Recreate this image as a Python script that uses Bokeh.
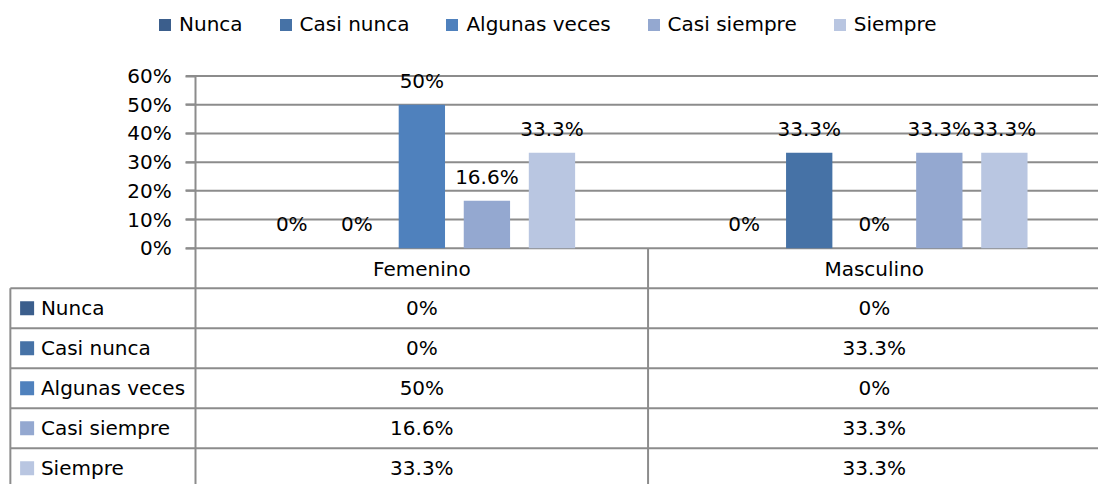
from bokeh.plotting import figure
from bokeh.models import (Range1d, LinearAxis, FixedTicker, NumeralTickFormatter,
                          ColumnDataSource, LabelSet, Legend, LegendItem)
from bokeh.core.properties import value
from bokeh.embed import file_html
from bokeh.resources import INLINE

# ---------------- data ----------------
categories = ["Femenino", "Masculino"]
series = ["Nunca", "Casi nunca", "Algunas veces", "Casi siempre", "Siempre"]
femenino = [0.0, 0.0, 0.50, 0.166, 0.333]
masculino = [0.0, 0.333, 0.0, 0.333, 0.333]
y_ticks = [0.0, 0.1, 0.2, 0.3, 0.4, 0.5, 0.6]

# ---------------- styles / layout ----------------
colors = ["#3B5E8C", "#4672A6", "#4F81BD", "#94A8D0", "#B9C6E1"]
GRAY = "#8C8C8C"
FONT = "DejaVu Sans"
FS = "20px"

W, H = 1098, 484
REF_W, REF_H = 1114, 500   # layout designed in reference pixels, scaled to the figure
AX_X = 198                 # axis line (reference px)
CAT_W = 459                # px per category
ZERO_Y = 256               # px of 0%
PPU = 178 / 0.6            # px per 100%
ROW_H = 41.3               # table row height
BAR_W = 47 / CAT_W
STEP = 66 / CAT_W


def xd(px):
    return (px - AX_X) / CAT_W - 0.5


x_start, x_end = xd(0), xd(REF_W)
y_end = ZERO_Y / PPU
y_start = (ZERO_Y - REF_H) / PPU
t_start = (REF_H - ZERO_Y) / ROW_H
t_end = (0 - ZERO_Y) / ROW_H

p = figure(width=W, height=H, output_backend="svg", toolbar_location=None,
           x_range=Range1d(x_start, x_end), y_range=Range1d(y_start, y_end),
           x_axis_type=None, y_axis_type=None,
           min_border_left=0, min_border_right=0, min_border_top=0,
           min_border_bottom=0, outline_line_color=None,
           background_fill_color="white", border_fill_color="white")
p.extra_y_ranges = {"table": Range1d(start=t_start, end=t_end)}

# gridlines (from tick end to right edge)
p.segment(x0=[xd(188)] * len(y_ticks), x1=[xd(REF_W + 10)] * len(y_ticks),
          y0=y_ticks, y1=y_ticks, line_color=GRAY, line_width=2)

# bars
values = [femenino, masculino]
bar_renderers = []
lab_x, lab_y, lab_t = [], [], []
for si, s in enumerate(series):
    xs = [ci + (si - 2) * STEP for ci in range(len(categories))]
    tops = [values[ci][si] for ci in range(len(categories))]
    src = ColumnDataSource(dict(x=xs, top=tops))
    r = p.vbar(x="x", top="top", bottom=0, width=BAR_W, source=src,
               fill_color=colors[si], line_color=None)
    bar_renderers.append(r)
    for x, t in zip(xs, tops):
        lab_x.append(x)
        lab_y.append(t)
        lab_t.append("{:g}%".format(round(t * 100, 1)))

labels = LabelSet(x="x", y="y", text="t", source=ColumnDataSource(dict(x=lab_x, y=lab_y, t=lab_t)),
                  y_offset=24, text_align="center", text_baseline="middle",
                  text_font=value(FONT), text_font_size=value(FS), text_color="black")
p.add_layout(labels)

# y axis
yaxis = LinearAxis(ticker=FixedTicker(ticks=y_ticks), formatter=NumeralTickFormatter(format="0%"),
                   fixed_location=-0.5, bounds=(y_start, max(y_ticks)),
                   axis_line_color=GRAY, axis_line_width=2,
                   major_tick_out=10, major_tick_in=0, major_tick_line_color=GRAY,
                   major_tick_line_width=2, minor_tick_out=0, minor_tick_in=0,
                   major_label_standoff=14, major_label_text_font=FONT,
                   major_label_text_font_size=FS, major_label_text_color="black")
p.add_layout(yaxis, "left")

# category axis (header row of the table)
xaxis = LinearAxis(ticker=FixedTicker(ticks=list(range(len(categories)))),
                   major_label_overrides={i: c for i, c in enumerate(categories)},
                   fixed_location=0, axis_line_color=None, major_tick_line_color=None,
                   minor_tick_line_color=None, major_tick_out=0, major_tick_in=0,
                   major_label_standoff=9, major_label_text_font=FONT,
                   major_label_text_font_size=FS, major_label_text_color="black")
p.add_layout(xaxis, "below")

# data table lines
n = len(series)
rows = list(range(1, n + 1))
p.segment(x0=[xd(10)] * n, x1=[xd(REF_W + 10)] * n, y0=rows, y1=rows,
          line_color=GRAY, line_width=2, y_range_name="table")
p.segment(x0=[xd(10), 0.5], x1=[xd(10), 0.5], y0=[1, 0], y1=[n + 1, n + 1],
          line_color=GRAY, line_width=2, y_range_name="table")

# data table contents
row_c = [i + 1.5 for i in range(n)]
p.scatter(x=[xd(27)] * n, y=row_c, marker="square", size=14, fill_color=colors,
          line_color=None, y_range_name="table")
p.text(x=[xd(41)] * n, y=row_c, text=series, text_align="left", text_baseline="middle",
       text_font=value(FONT), text_font_size=value(FS), text_color="black",
       y_range_name="table")
for ci in range(len(categories)):
    p.text(x=[ci] * n, y=row_c,
           text=["{:g}%".format(round(v * 100, 1)) for v in values[ci]],
           text_align="center", text_baseline="middle",
           text_font=value(FONT), text_font_size=value(FS), text_color="black",
           y_range_name="table")

# top legend (inside the frame, screen units from the frame's bottom-left)
legend = Legend(items=[LegendItem(label=s, renderers=[r]) for s, r in zip(series, bar_renderers)],
                orientation="horizontal", location=(157, H - 36), glyph_width=15,
                glyph_height=15, label_standoff=7, spacing=35, padding=6, margin=0,
                border_line_color=None, background_fill_alpha=0,
                label_text_font=FONT, label_text_font_size=FS, label_text_color="black")
p.add_layout(legend, "center")

open("out.html", "w").write(file_html(p, INLINE))
